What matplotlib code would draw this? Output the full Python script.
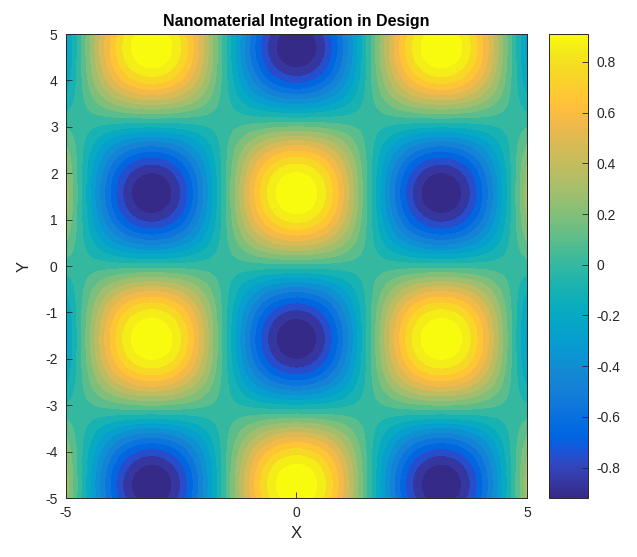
import numpy as np
import matplotlib
matplotlib.use("Agg")
import matplotlib.pyplot as plt
from matplotlib.colors import LinearSegmentedColormap, Normalize
from matplotlib.cm import ScalarMappable

plt.rcParams['font.family'] = ['Liberation Sans', 'DejaVu Sans']
plt.rcParams['axes.unicode_minus'] = False

# Parula colormap (64 entries)
parula_rgb = [
    [0.2081, 0.1663, 0.5292], [0.2116, 0.1898, 0.5777], [0.2123, 0.2138, 0.6270],
    [0.2081, 0.2386, 0.6771], [0.1959, 0.2645, 0.7279], [0.1707, 0.2919, 0.7792],
    [0.1253, 0.3242, 0.8303], [0.0591, 0.3598, 0.8683], [0.0117, 0.3875, 0.8820],
    [0.0060, 0.4086, 0.8828], [0.0165, 0.4266, 0.8786], [0.0329, 0.4430, 0.8720],
    [0.0498, 0.4586, 0.8641], [0.0629, 0.4737, 0.8554], [0.0723, 0.4887, 0.8467],
    [0.0779, 0.5040, 0.8384], [0.0793, 0.5200, 0.8312], [0.0749, 0.5375, 0.8263],
    [0.0641, 0.5570, 0.8240], [0.0488, 0.5772, 0.8228], [0.0343, 0.5966, 0.8199],
    [0.0265, 0.6137, 0.8135], [0.0239, 0.6287, 0.8038], [0.0231, 0.6418, 0.7913],
    [0.0228, 0.6535, 0.7768], [0.0267, 0.6642, 0.7607], [0.0384, 0.6743, 0.7436],
    [0.0590, 0.6838, 0.7254], [0.0843, 0.6928, 0.7062], [0.1133, 0.7015, 0.6859],
    [0.1453, 0.7098, 0.6646], [0.1801, 0.7177, 0.6424], [0.2178, 0.7250, 0.6193],
    [0.2586, 0.7317, 0.5954], [0.3022, 0.7376, 0.5712], [0.3482, 0.7424, 0.5473],
    [0.3953, 0.7459, 0.5244], [0.4420, 0.7481, 0.5033], [0.4871, 0.7491, 0.4840],
    [0.5300, 0.7491, 0.4661], [0.5709, 0.7485, 0.4494], [0.6099, 0.7473, 0.4337],
    [0.6473, 0.7456, 0.4188], [0.6834, 0.7435, 0.4044], [0.7184, 0.7411, 0.3905],
    [0.7525, 0.7384, 0.3768], [0.7858, 0.7356, 0.3633], [0.8185, 0.7327, 0.3498],
    [0.8507, 0.7299, 0.3360], [0.8824, 0.7274, 0.3217], [0.9139, 0.7258, 0.3063],
    [0.9450, 0.7261, 0.2886], [0.9739, 0.7314, 0.2666], [0.9938, 0.7455, 0.2403],
    [0.9990, 0.7653, 0.2164], [0.9955, 0.7861, 0.1967], [0.9880, 0.8066, 0.1794],
    [0.9789, 0.8271, 0.1633], [0.9697, 0.8481, 0.1475], [0.9626, 0.8705, 0.1309],
    [0.9589, 0.8949, 0.1132], [0.9598, 0.9218, 0.0948], [0.9661, 0.9514, 0.0755],
    [0.9763, 0.9831, 0.0538]]
parula = LinearSegmentedColormap.from_list("parula", parula_rgb, N=256)

# Surface field on a regular grid
x_range = (-5, 5)
y_range = (-5, 5)
grid_n = 300
x = np.linspace(*x_range, grid_n)
y = np.linspace(*y_range, grid_n)
X, Y = np.meshgrid(x, y)
Z = np.cos(X) * np.sin(Y)

# 20 contour levels strictly inside the data range
n_levels = 20
zmin, zmax = Z.min(), Z.max()
inner = np.linspace(zmin, zmax, n_levels + 2)[1:-1]
levels = np.concatenate([[zmin - 1e-9], inner, [zmax + 1e-9]])

clim = (-0.92, 0.91)
x_ticks = [-5, 0, 5]
y_ticks = list(range(-5, 6))
cbar_ticks = [-0.8, -0.6, -0.4, -0.2, 0, 0.2, 0.4, 0.6, 0.8]
cbar_labels = ["-0.8", "-0.6", "-0.4", "-0.2", "0", "0.2", "0.4", "0.6", "0.8"]

fig = plt.figure(figsize=(6.37, 5.57), dpi=100)
ax = fig.add_axes([0.1036, 0.1059, 0.7237, 0.833])
cax = fig.add_axes([0.862, 0.1059, 0.0612, 0.833])

norm = Normalize(vmin=clim[0], vmax=clim[1])
ax.contourf(X, Y, Z, levels=levels, cmap=parula, norm=norm)
ax.set_xlim(*x_range)
ax.set_ylim(*y_range)
ax.set_xticks(x_ticks)
ax.set_yticks(y_ticks)
ax.tick_params(direction='in', length=4, width=0.6, colors='#262626',
               labelsize=10, top=False, right=False, pad=6)
for s in ax.spines.values():
    s.set_linewidth(0.7)
    s.set_color('#262626')
ax.set_xlabel("X", fontsize=12, color='#262626', labelpad=4)
ax.set_ylabel("Y", fontsize=12, color='#262626', labelpad=10)
ax.set_title("Nanomaterial Integration in Design", fontsize=11.5,
             fontweight='bold', color='#000000', pad=6)

sm = ScalarMappable(norm=norm, cmap=parula)
cb = fig.colorbar(sm, cax=cax)
cb.set_ticks(cbar_ticks)
cb.set_ticklabels(cbar_labels)
cb.ax.tick_params(direction='in', length=4, width=0.6, colors='#262626',
                  labelsize=10, pad=6)
cb.outline.set_linewidth(0.7)
cb.outline.set_edgecolor('#262626')

fig.savefig("out.png", dpi=100)
